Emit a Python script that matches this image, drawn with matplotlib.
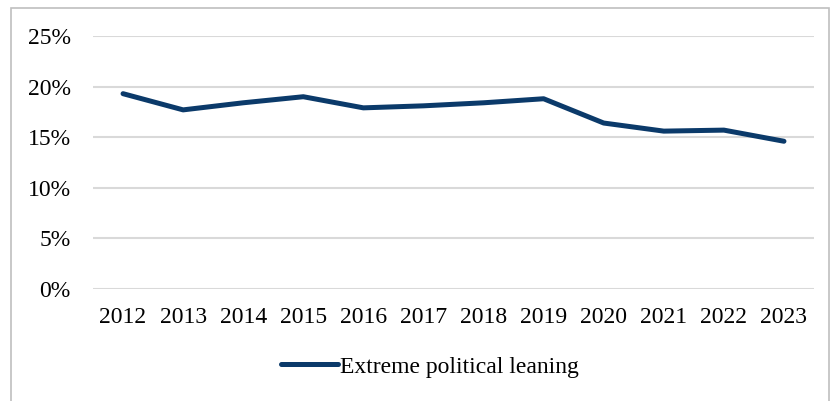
import matplotlib.pyplot as plt
from matplotlib.patches import Rectangle
from matplotlib.ticker import FuncFormatter

years = ["2012", "2013", "2014", "2015", "2016", "2017",
         "2018", "2019", "2020", "2021", "2022", "2023"]
extreme = [19.3, 17.7, 18.4, 19.0, 17.9, 18.1, 18.4, 18.8, 16.4, 15.6, 15.7, 14.6]
yticks = [0, 5, 10, 15, 20, 25]

plt.rcParams['font.family'] = ['Liberation Serif', 'DejaVu Serif']

fig = plt.figure(figsize=(8.31, 4.01), dpi=100)
ax = fig.add_axes([93 / 831, 1 - 289 / 401, (814 - 93) / 831, (289 - 36) / 401])

x = list(range(len(years)))
ax.plot(x, extreme, color='#0b3a6a', lw=3.6, solid_capstyle='round',
        solid_joinstyle='round', label='Extreme political leaning')

ax.set_xlim(-0.5, len(years) - 0.5)
ax.set_ylim(0, 25)
ax.set_yticks(yticks)
ax.yaxis.set_major_formatter(FuncFormatter(lambda v, p: f"{v:.0f}%"))
ax.set_xticks(x)
ax.set_xticklabels(years)
ax.grid(axis='y', color='#d9d9d9', lw=1.5)
ax.set_axisbelow(True)
for s in ax.spines.values():
    s.set_visible(False)
ax.tick_params(length=0, labelsize=17, colors='black')
ax.tick_params(axis='x', pad=13)
ax.tick_params(axis='y', pad=16)

ax.legend(loc='center', bbox_to_anchor=(430 / 831, 1 - 367 / 401),
          bbox_transform=fig.transFigure, frameon=False, fontsize=17,
          handlelength=2.4, handletextpad=0.1)

fig.patches.append(Rectangle((11 / 831, -0.05), 818 / 831, 1 - 8 / 401 + 0.05,
                             transform=fig.transFigure, fill=False,
                             edgecolor='#bfbfbf', lw=1.2))

fig.savefig('out.png', dpi=100)
